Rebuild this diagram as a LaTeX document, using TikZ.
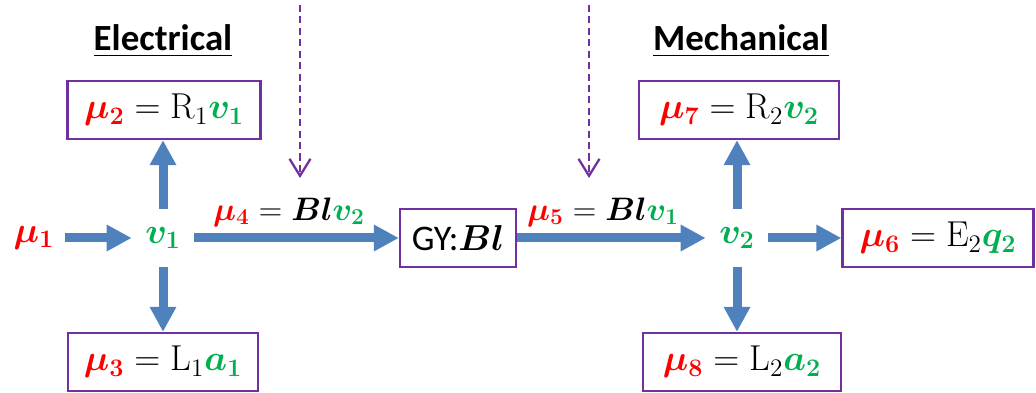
\documentclass[tikz,border=0pt]{standalone}
\usepackage{fix-cm}
\usepackage{amsmath,amssymb,bm}
\usepackage{fontspec}
\newfontfamily\calibri{Carlito}
\usepackage{tikz}
\usetikzlibrary{arrows.meta,calc}
\definecolor{bgred}{RGB}{255,0,0}
\definecolor{bggreen}{RGB}{0,176,80}
\definecolor{bgblue}{RGB}{79,129,189}
\definecolor{bgpurple}{RGB}{112,48,160}
\newcommand{\mueff}[1]{\textcolor{bgred}{\bm{\mu_{#1}}}}
\newcommand{\flowvar}[2]{\textcolor{bggreen}{\bm{#1_{#2}}}}

\begin{document}
\begin{tikzpicture}[font=\fontsize{20.5}{24}\selectfont,
  eqbox/.style={draw=bgpurple, line width=1.3pt, minimum height=1.16cm,
    inner sep=0pt},
  junction/.style={minimum width=1.24cm, minimum height=1.16cm, inner sep=0pt},
  bondlabel/.style={font=\fontsize{18.5}{22}\selectfont},
  flowarrow/.style={-{Triangle[length=0.5cm,width=0.5cm]}, line width=0.18cm,
    bgblue},
  causal/.style={-{Straight Barb[length=0.34cm,width=0.42cm]}, bgpurple,
    line width=1.3pt, dash pattern=on 4pt off 2.5pt},
  title/.style={font=\calibri\bfseries\fontsize{21}{25}\selectfont}]

  \useasboundingbox (0,0) rectangle (20.72,7.86);

  % Titles
  \node[title] (elec) at (3.26,7.04) {\underline{Electrical}};
  \node[title] (mech) at (14.82,7.04) {\underline{Mechanical}};

  % Electrical side
  \node[inner xsep=0.2cm] (m1) at (0.68,3.10) {$\mueff{1}$};
  \node[junction] (v1) at (3.26,3.10) {$\flowvar{v}{1}$};
  \node[eqbox, minimum width=3.86cm] (m2) at (3.28,5.66)
    {$\mueff{2} = \mathrm{R}_1\flowvar{v}{1}$};
  \node[eqbox, minimum width=3.80cm] (m3) at (3.26,0.62)
    {$\mueff{3} = \mathrm{L}_1\flowvar{a}{1}$};

  % Gyrator
  \node[eqbox, minimum width=2.32cm] (gy) at (9.16,3.10)
    {{\calibri GY:}$\bm{Bl}$};

  % Mechanical side
  \node[junction] (v2) at (14.74,3.10) {$\flowvar{v}{2}$};
  \node[eqbox, minimum width=4.00cm] (m7) at (14.78,5.66)
    {$\mueff{7} = \mathrm{R}_2\flowvar{v}{2}$};
  \node[eqbox, minimum width=3.96cm] (m8) at (14.84,0.62)
    {$\mueff{8} = \mathrm{L}_2\flowvar{a}{2}$};
  \node[eqbox, minimum width=3.82cm] (m6) at (18.76,3.10)
    {$\mueff{6} = \mathrm{E}_2\flowvar{q}{2}$};

  % Bond labels
  \node[bondlabel] (m4) at (5.78,3.62) {$\mueff{4} = \bm{Bl}\flowvar{v}{2}$};
  \node[bondlabel] (m5) at (12.06,3.62) {$\mueff{5} = \bm{Bl}\flowvar{v}{1}$};

  % Bonds
  \draw[flowarrow] (m1) -- (v1);
  \draw[flowarrow] (v1.north) -- (v1.north |- m2.south);
  \draw[flowarrow] (v1.south) -- (v1.south |- m3.north);
  \draw[flowarrow] (v1) -- (gy);
  \draw[flowarrow] (gy) -- (v2);
  \draw[flowarrow] (v2.north) -- (v2.north |- m7.south);
  \draw[flowarrow] (v2.south) -- (v2.south |- m8.north);
  \draw[flowarrow] (v2) -- (m6);

  % Causal strokes from above
  \coordinate (c1top) at (6.00,7.76);
  \coordinate (c1end) at (6.00,4.30);
  \coordinate (c2top) at (11.78,7.76);
  \coordinate (c2end) at (11.78,4.30);
  \draw[causal] (c1top) -- (c1end);
  \draw[causal] (c2top) -- (c2end);

\end{tikzpicture}
\end{document}
